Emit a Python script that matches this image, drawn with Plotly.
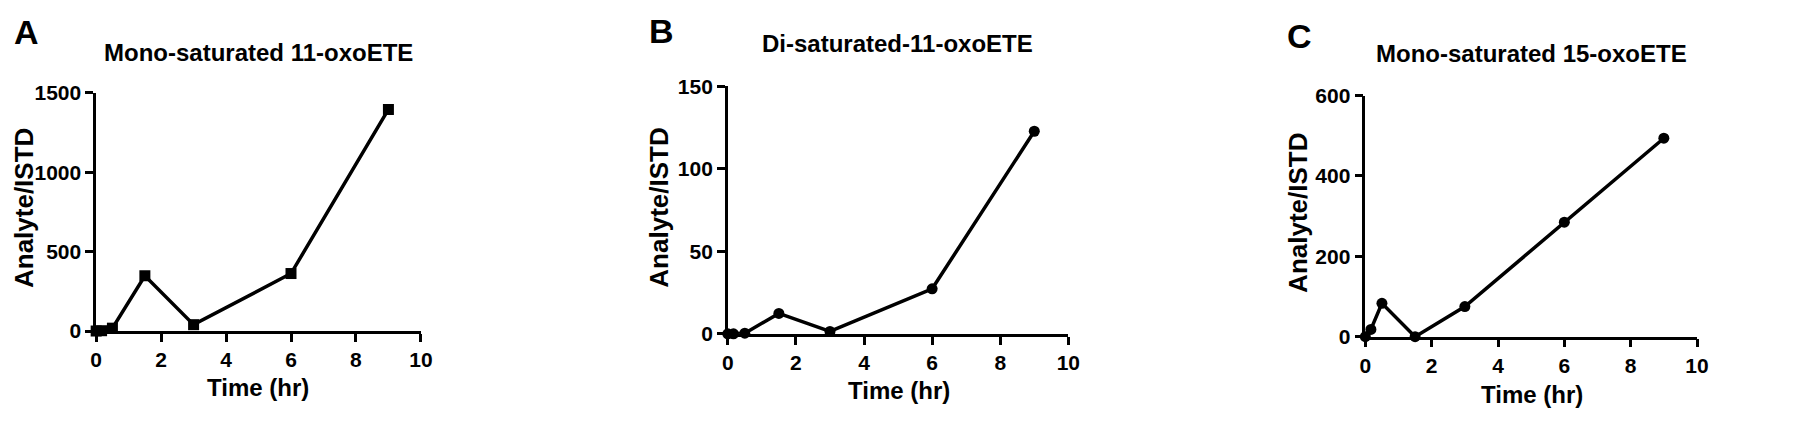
import plotly.graph_objects as go

W, H = 1800, 421

# sample times (hr)
time_hr = [0, 0.167, 0.5, 1.5, 3, 6, 9]

# Analyte/ISTD ratios
mono_11_oxoete = [0, 2, 18, 348, 40, 362, 1395]
di_11_oxoete = [0, 0, 0.4, 12.4, 1.5, 27.3, 122.7]
mono_15_oxoete = [0, 18, 83, 0, 75, 285, 494]

titles = ["Mono-saturated 11-oxoETE", "Di-saturated-11-oxoETE", "Mono-saturated 15-oxoETE"]
panel_letters = ["A", "B", "C"]
y_max = [1500, 150, 600]
y_dtick = [500, 50, 200]
symbols = ["square", "circle", "circle"]
series = [mono_11_oxoete, di_11_oxoete, mono_15_oxoete]

# screen-pixel layout of each panel: (x at 0, x at 10, y at 0, y at top)
boxes = [(91, 419, 337, 85), (729, 1073, 340, 78), (1373, 1708, 343, 88)]
title_pos = [(255, 42), (900, 33), (1541, 43)]
letter_pos = [(21, 21), (662, 20), (1306, 25)]
ylab_pos = [(18, 207), (660, 206), (1305, 212)]
xlab_pos = [(254, 397), (902, 400), (1541, 404)]

FONT = "Liberation Sans, Arial, sans-serif"
OFF = 8  # page body margin


def px(x):
    return (x - OFF) / W


def py(y):
    return 1 - (y - OFF) / H


fig = go.Figure()
annotations = []

for i in range(3):
    n = "" if i == 0 else str(i + 1)
    fig.add_trace(go.Scatter(
        x=time_hr, y=series[i], mode="lines+markers",
        xaxis="x" + n, yaxis="y" + n,
        line=dict(color="black", width=3.5),
        marker=dict(symbol=symbols[i], size=11, color="black"),
        cliponaxis=False, showlegend=False))

    x0, x1, yb, yt = boxes[i]
    axis_common = dict(
        showline=True, linecolor="black", linewidth=2.5,
        ticks="outside", ticklen=8, tickwidth=2.5, tickcolor="black",
        showgrid=False, zeroline=False, fixedrange=True,
        tickfont=dict(family=FONT, size=21, color="black", weight="bold"))
    fig.update_layout({
        "xaxis" + n: dict(domain=[px(x0), px(x1)], range=[0, 10], dtick=2,
                          anchor="y" + n, **axis_common),
        "yaxis" + n: dict(domain=[py(yb), py(yt)], range=[0, y_max[i]],
                          dtick=y_dtick[i], anchor="x" + n, **axis_common),
    })

    annotations.append(dict(text=titles[i], x=px(title_pos[i][0]), y=py(title_pos[i][1]),
                            xref="paper", yref="paper", showarrow=False,
                            xanchor="center", yanchor="middle",
                            font=dict(family=FONT, size=24, color="black", weight="bold")))
    annotations.append(dict(text=panel_letters[i], x=px(letter_pos[i][0]), y=py(letter_pos[i][1]),
                            xref="paper", yref="paper", showarrow=False,
                            xanchor="center", yanchor="middle",
                            font=dict(family=FONT, size=34, color="black", weight="bold")))
    annotations.append(dict(text="Analyte/ISTD", x=px(ylab_pos[i][0]), y=py(ylab_pos[i][1]),
                            xref="paper", yref="paper", showarrow=False, textangle=-90,
                            xanchor="center", yanchor="middle",
                            font=dict(family=FONT, size=26, color="black", weight="bold")))
    annotations.append(dict(text="Time (hr)", x=px(xlab_pos[i][0]), y=py(xlab_pos[i][1]),
                            xref="paper", yref="paper", showarrow=False,
                            xanchor="center", yanchor="middle",
                            font=dict(family=FONT, size=24, color="black", weight="bold")))

fig.update_layout(
    width=W, height=H,
    margin=dict(l=0, r=0, t=0, b=0),
    paper_bgcolor="white", plot_bgcolor="white",
    annotations=annotations)

fig.write_html("out.html")
